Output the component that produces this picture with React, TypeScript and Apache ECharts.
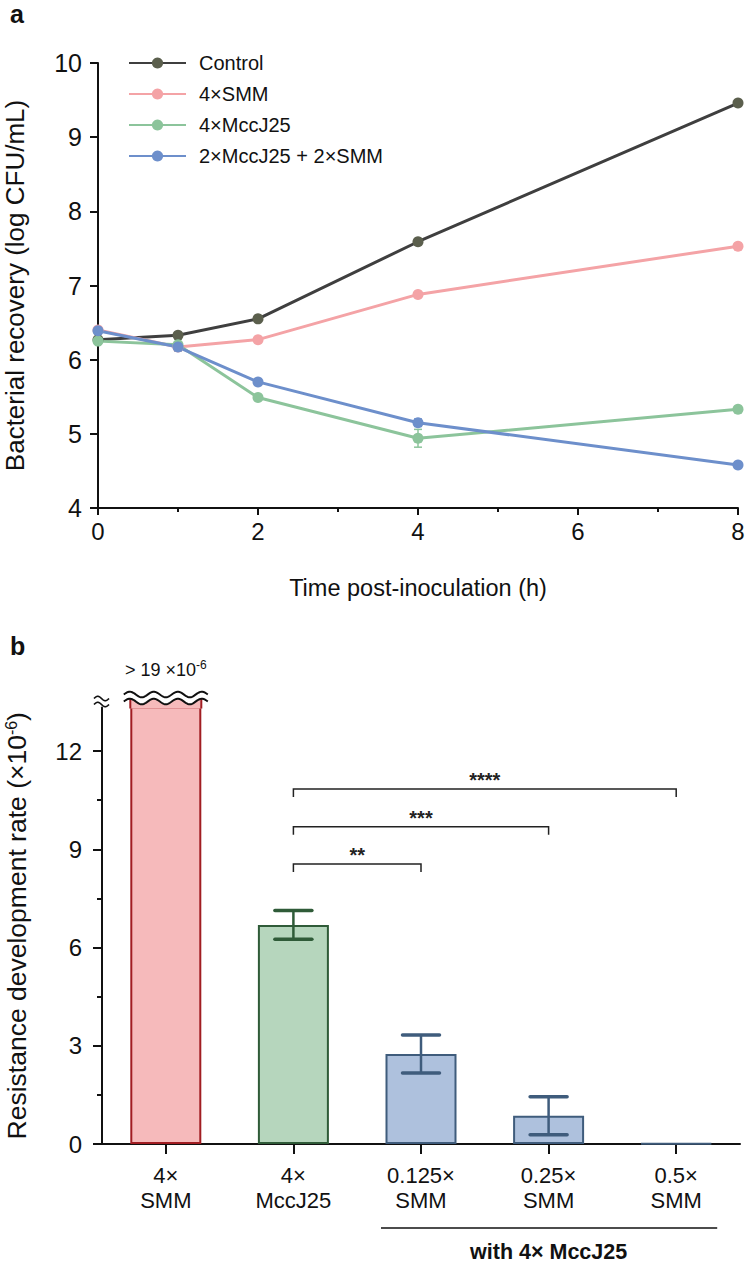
import React, { useEffect, useRef } from 'react';
import * as echarts from 'echarts';

const FONT = '"Liberation Sans", Arial, Helvetica, sans-serif';

// ---------- Panel a data ----------
const TIME_POINTS = [0, 1, 2, 4, 8];
const SERIES_NAMES = ['Control', '4×SMM', '4×MccJ25', '2×MccJ25 + 2×SMM'];
const CONTROL = [6.27, 6.33, 6.55, 7.59, 9.46];
const SMM4 = [6.4, 6.17, 6.27, 6.88, 7.53];
const MCCJ4 = [6.25, 6.2, 5.49, 4.94, 5.33];
const COMBO = [6.39, 6.17, 5.7, 5.15, 4.58];
const CONTROL_ERR = [0.02, 0.03, 0.03, 0.03, 0.02];
const SMM4_ERR = [0.03, 0.05, 0.03, 0.03, 0.02];
const MCCJ4_ERR = [0.03, 0.08, 0.03, 0.12, 0.03];
const COMBO_ERR = [0.03, 0.05, 0.04, 0.05, 0.02];

// ---------- Panel b data ----------
const BAR_CATEGORIES = ['4×\nSMM', '4×\nMccJ25', '0.125×\nSMM', '0.25×\nSMM', '0.5×\nSMM'];
const BAR_VALUES = [19, 6.69, 2.75, 0.86, 0.02];
const BAR_ERRORS = [0, 0.44, 0.58, 0.58, 0];
const BAR_Y_MAJOR = [0, 3, 6, 9, 12];
const BAR_Y_MINOR = [1.5, 4.5, 7.5, 10.5];
const BAR_Y_MAX = 13.33;
const BRACKET_FROM = [1, 1, 1];
const BRACKET_TO = [2, 3, 4];
const BRACKET_Y = [8.55, 9.69, 10.84];
const BRACKET_LABELS = ['**', '***', '****'];
const GROUP_RANGE = [2, 4];
const GROUP_LABEL = 'with 4× MccJ25';
const BREAK_LABEL = '{a|> 19 ×10}{s|-6}';

// ---------- styles ----------
const LINE_COLORS = ['#3f3f3f', '#f4a3a6', '#8cc49b', '#6d8fcb'];
const DOT_COLORS = ['#5b5f4d', '#f4a3a6', '#8cc49b', '#6d8fcb'];
const BAR_FILL = ['#f6babb', '#b6d6bd', '#aec1dd', '#aec1dd', '#aec1dd'];
const BAR_BORDER = ['#a11d22', '#2f5b38', '#3f5c7c', '#3f5c7c', '#3f5c7c'];

function wavePoints(x0: number, x1: number, yc: number, amp: number, periods: number) {
  const pts: number[][] = [];
  const n = 80;
  for (let i = 0; i <= n; i++) {
    const t = i / n;
    pts.push([x0 + (x1 - x0) * t, yc - amp * Math.sin(t * periods * Math.PI * 2)]);
  }
  return pts;
}

export default function App() {
  const ref = useRef<HTMLDivElement>(null);

  useEffect(() => {
    document.body.style.margin = '0';
    const chart = echarts.init(ref.current!, null, { renderer: 'svg' });

    const lineData = [CONTROL, SMM4, MCCJ4, COMBO];
    const errData = [CONTROL_ERR, SMM4_ERR, MCCJ4_ERR, COMBO_ERR];

    const errSeriesA = lineData.map((vals, k) => ({
      type: 'custom',
      xAxisIndex: 0,
      yAxisIndex: 0,
      silent: true,
      z: 1,
      data: vals.map((v, i) => [TIME_POINTS[i], v, errData[k][i]]),
      encode: { x: 0, y: 1 },
      renderItem: (params: any, api: any) => {
        const x = api.value(0);
        const v = api.value(1);
        const e = api.value(2);
        const t = api.coord([x, v + e]);
        const b = api.coord([x, v - e]);
        const st = { stroke: LINE_COLORS[k], lineWidth: 1.5 };
        return {
          type: 'group',
          children: [
            { type: 'line', shape: { x1: t[0], y1: t[1], x2: b[0], y2: b[1] }, style: st },
            { type: 'line', shape: { x1: t[0] - 4, y1: t[1], x2: t[0] + 4, y2: t[1] }, style: st },
            { type: 'line', shape: { x1: b[0] - 4, y1: b[1], x2: b[0] + 4, y2: b[1] }, style: st },
          ],
        };
      },
    }));

    const lineSeries = lineData.map((vals, k) => ({
      name: SERIES_NAMES[k],
      type: 'line',
      xAxisIndex: 0,
      yAxisIndex: 0,
      data: vals.map((v, i) => [TIME_POINTS[i], v]),
      symbol: 'circle',
      symbolSize: 11,
      z: 3,
      lineStyle: { color: LINE_COLORS[k], width: 3 },
      itemStyle: { color: DOT_COLORS[k] },
    }));

    const barSeries = {
      type: 'bar',
      xAxisIndex: 1,
      yAxisIndex: 1,
      barWidth: 71,
      clip: true,
      data: BAR_VALUES.map((v, i) => ({
        value: v,
        itemStyle: { color: BAR_FILL[i], borderColor: BAR_BORDER[i], borderWidth: 2 },
      })),
    };

    const barErrSeries = {
      type: 'custom',
      xAxisIndex: 1,
      yAxisIndex: 1,
      silent: true,
      z: 5,
      data: BAR_VALUES.map((v, i) => [i, v, BAR_ERRORS[i]]).filter((d) => d[2] > 0),
      encode: { x: 0, y: 1 },
      renderItem: (params: any, api: any) => {
        const i = api.value(0);
        const v = api.value(1);
        const e = api.value(2);
        const t = api.coord([i, v + e]);
        const b = api.coord([i, v - e]);
        const c = BAR_BORDER[i];
        const hw = 18.5;
        return {
          type: 'group',
          children: [
            { type: 'line', shape: { x1: t[0], y1: t[1], x2: b[0], y2: b[1] }, style: { stroke: c, lineWidth: 2.5 } },
            { type: 'line', shape: { x1: t[0] - hw, y1: t[1], x2: t[0] + hw, y2: t[1] }, style: { stroke: c, lineWidth: 3.5, lineCap: 'round' } },
            { type: 'line', shape: { x1: b[0] - hw, y1: b[1], x2: b[0] + hw, y2: b[1] }, style: { stroke: c, lineWidth: 3.5, lineCap: 'round' } },
          ],
        };
      },
    };

    const bracketSeries = {
      type: 'custom',
      xAxisIndex: 1,
      yAxisIndex: 1,
      silent: true,
      z: 6,
      data: BRACKET_FROM.map((f, i) => [f, BRACKET_TO[i], BRACKET_Y[i]]),
      encode: { x: [0, 1], y: 2 },
      renderItem: (params: any, api: any) => {
        const a = api.coord([api.value(0), api.value(2)]);
        const b = api.coord([api.value(1), api.value(2)]);
        return {
          type: 'group',
          children: [
            {
              type: 'polyline',
              shape: { points: [[a[0], a[1] + 8], [a[0], a[1]], [b[0], b[1]], [b[0], b[1] + 8]] },
              style: { stroke: '#222', lineWidth: 1.5, fill: 'none' },
            },
            {
              type: 'text',
              x: (a[0] + b[0]) / 2,
              y: a[1] - 9,
              style: {
                text: BRACKET_LABELS[params.dataIndex],
                fill: '#222',
                fontSize: 20,
                fontWeight: 'bold',
                fontFamily: FONT,
                align: 'center',
                verticalAlign: 'middle',
              },
            },
          ],
        };
      },
    };

    const breakSeries = {
      type: 'custom',
      xAxisIndex: 1,
      yAxisIndex: 1,
      silent: true,
      z: 7,
      data: [[0, BAR_Y_MAX]],
      encode: { x: 0, y: 1 },
      renderItem: (params: any, api: any) => {
        const p = api.coord([api.value(0), api.value(1)]);
        const cx = p[0];
        const top = p[1];
        const half = 35.5;
        const ww = 42;
        const lowY = top - 6;
        const upY = top - 13;
        const lower = wavePoints(cx - ww, cx + ww, lowY, 2.8, 3.5);
        const upper = wavePoints(cx - ww, cx + ww, upY, 2.8, 3.5);
        const inside = lower.filter((q) => q[0] >= cx - half && q[0] <= cx + half);
        const fillPoly = [[cx - half, top + 1], ...inside, [cx + half, top + 1]];
        const ax = params.coordSys.x;
        const tilde1 = wavePoints(ax - 8, ax + 7, top - 9, 2.2, 1);
        const tilde2 = wavePoints(ax - 8, ax + 7, top - 3, 2.2, 1);
        const firstY = inside[0][1];
        const lastY = inside[inside.length - 1][1];
        return {
          type: 'group',
          children: [
            { type: 'polygon', shape: { points: fillPoly }, style: { fill: BAR_FILL[0] } },
            { type: 'line', shape: { x1: cx - half, y1: top + 1, x2: cx - half, y2: firstY }, style: { stroke: BAR_BORDER[0], lineWidth: 2 } },
            { type: 'line', shape: { x1: cx + half, y1: top + 1, x2: cx + half, y2: lastY }, style: { stroke: BAR_BORDER[0], lineWidth: 2 } },
            { type: 'polyline', shape: { points: lower }, style: { stroke: '#111', lineWidth: 2, fill: 'none' } },
            { type: 'polyline', shape: { points: upper }, style: { stroke: '#111', lineWidth: 2, fill: 'none' } },
            { type: 'polygon', shape: { points: [...tilde1, ...tilde2.slice().reverse()] }, style: { fill: '#fff' } },
            { type: 'polyline', shape: { points: tilde1 }, style: { stroke: '#111', lineWidth: 1.6, fill: 'none' } },
            { type: 'polyline', shape: { points: tilde2 }, style: { stroke: '#111', lineWidth: 1.6, fill: 'none' } },
            {
              type: 'text',
              x: cx,
              y: top - 38,
              style: {
                text: BREAK_LABEL,
                fill: '#111',
                align: 'center',
                verticalAlign: 'middle',
                rich: {
                  a: { fontSize: 18, lineHeight: 22, fontFamily: FONT, fill: '#111' },
                  s: { fontSize: 12, lineHeight: 12, verticalAlign: 'top', fontFamily: FONT, fill: '#111' },
                },
              },
            },
          ],
        };
      },
    };

    const groupSeries = {
      type: 'custom',
      xAxisIndex: 1,
      yAxisIndex: 1,
      silent: true,
      data: [[GROUP_RANGE[0], GROUP_RANGE[1], 0]],
      encode: { x: [0, 1], y: 2 },
      renderItem: (params: any, api: any) => {
        const a = api.coord([api.value(0), 0]);
        const b = api.coord([api.value(1), 0]);
        const y = params.coordSys.y + params.coordSys.height + 84;
        return {
          type: 'group',
          children: [
            { type: 'line', shape: { x1: a[0] - 40, y1: y, x2: b[0] + 41, y2: y }, style: { stroke: '#111', lineWidth: 1.6 } },
            {
              type: 'text',
              x: (a[0] + b[0]) / 2,
              y: y + 24,
              style: {
                text: GROUP_LABEL,
                fill: '#111',
                fontSize: 21.5,
                fontWeight: 'bold',
                fontFamily: FONT,
                align: 'center',
                verticalAlign: 'middle',
              },
            },
          ],
        };
      },
    };

    const axisLine = { show: true, lineStyle: { color: '#111', width: 2 } };

    chart.setOption({
      animation: false,
      textStyle: { fontFamily: FONT, color: '#111' },
      graphic: [
        { type: 'text', left: 10, top: 1, style: { text: 'a', fontSize: 25, fontWeight: 'bold', fontFamily: FONT, fill: '#111' } },
        { type: 'text', left: 10, top: 633, style: { text: 'b', fontSize: 25, fontWeight: 'bold', fontFamily: FONT, fill: '#111' } },
      ],
      legend: {
        data: SERIES_NAMES,
        orient: 'vertical',
        left: 123,
        top: 48,
        itemWidth: 57,
        itemHeight: 14,
        itemGap: 11,
        textStyle: { fontSize: 20, lineHeight: 20, fontFamily: FONT, color: '#111', padding: [0, 0, 0, 8] },
      },
      grid: [
        { left: 98, top: 63, width: 640, height: 445, containLabel: false, outerBoundsMode: 'none' },
        { left: 102, top: 707.5, width: 638, height: 436.5, containLabel: false, outerBoundsMode: 'none' },
      ],
      xAxis: [
        {
          type: 'value',
          gridIndex: 0,
          min: 0,
          max: 8,
          interval: 2,
          name: 'Time post-inoculation (h)',
          nameLocation: 'middle',
          nameGap: 68,
          nameTextStyle: { fontSize: 23.5, fontFamily: FONT, color: '#111' },
          axisLine: { ...axisLine, onZero: false },
          axisTick: { show: true, length: 7, lineStyle: { color: '#111', width: 2 } },
          minorTick: { show: true, splitNumber: 2, length: 4, lineStyle: { color: '#111', width: 2 } },
          axisLabel: { fontSize: 24, color: '#111', margin: 11, fontFamily: FONT },
          splitLine: { show: false },
          minorSplitLine: { show: false },
        },
        {
          type: 'category',
          gridIndex: 1,
          data: BAR_CATEGORIES,
          axisLine: { ...axisLine, onZero: false },
          axisTick: { show: true, alignWithLabel: true, length: 10, lineStyle: { color: '#111', width: 2 } },
          axisLabel: { fontSize: 22, lineHeight: 25, color: '#111', margin: 19, interval: 0, fontFamily: FONT },
          splitLine: { show: false },
        },
      ],
      yAxis: [
        {
          type: 'value',
          gridIndex: 0,
          position: 'left',
          min: 4,
          max: 10,
          interval: 1,
          name: 'Bacterial recovery (log CFU/mL)',
          nameLocation: 'middle',
          nameGap: 70,
          nameTextStyle: { fontSize: 26, lineHeight: 26, fontFamily: FONT, color: '#111' },
          axisLine: { ...axisLine, onZero: false },
          axisTick: { show: true, length: 8, lineStyle: { color: '#111', width: 2 } },
          axisLabel: { fontSize: 25, color: '#111', margin: 16, fontFamily: FONT },
          splitLine: { show: false },
        },
        {
          type: 'value',
          gridIndex: 1,
          position: 'left',
          min: 0,
          max: BAR_Y_MAX,
          interval: 3,
          name: '{n|Resistance development rate (×10}{s|-6}{n|)}',
          nameLocation: 'middle',
          nameGap: 72,
          nameTextStyle: {
            fontFamily: FONT,
            color: '#111',
            rich: {
              n: { fontSize: 26.5, lineHeight: 27, fontFamily: FONT, color: '#111' },
              s: { fontSize: 16, lineHeight: 16, verticalAlign: 'top', fontFamily: FONT, color: '#111' },
            },
          },
          axisLine: { ...axisLine, onZero: false },
          axisTick: { show: true, length: 9, customValues: BAR_Y_MAJOR, lineStyle: { color: '#111', width: 2 } },
          axisLabel: { fontSize: 24, color: '#111', margin: 20, customValues: BAR_Y_MAJOR, fontFamily: FONT },
          splitLine: { show: false },
        },
        {
          type: 'value',
          gridIndex: 1,
          position: 'left',
          min: 0,
          max: BAR_Y_MAX,
          interval: 3,
          axisLine: { show: false },
          axisTick: { show: true, length: 5, customValues: BAR_Y_MINOR, lineStyle: { color: '#111', width: 2 } },
          axisLabel: { show: false },
          splitLine: { show: false },
        },
      ],
      series: [...errSeriesA, ...lineSeries, barSeries, barErrSeries, bracketSeries, breakSeries, groupSeries],
    });

    return () => chart.dispose();
  }, []);

  return <div ref={ref} style={{ position: 'absolute', left: 0, top: 0, width: 746, height: 1264, background: '#fff' }} />;
}
